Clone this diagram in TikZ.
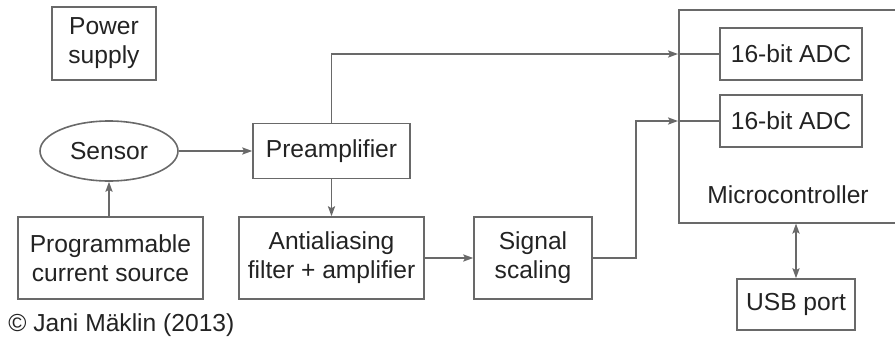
\documentclass[tikz,border=0pt]{standalone}
\usepackage{fontspec}
\setmainfont{Liberation Sans}
\usepackage{tikz}
\usetikzlibrary{arrows.meta,calc,positioning,shapes.geometric}
\definecolor{boxline}{RGB}{105,105,105}
\definecolor{boxtext}{RGB}{35,35,35}
\newcommand{\blockfont}{\fontsize{12.3}{14.5}\selectfont}

\begin{document}
\begin{tikzpicture}[x=0.5pt,y=0.5pt,
  block/.style={draw=boxline,line width=0.8pt,inner sep=0pt,align=center,
    text=boxtext,font=\blockfont},
  flow/.style={draw=boxline,line width=0.8pt,-{Stealth[length=5pt,width=3.6pt,inset=1pt]}},
  both/.style={draw=boxline,line width=0.8pt,
    {Stealth[length=5pt,width=3.6pt,inset=1pt]}-{Stealth[length=5pt,width=3.6pt,inset=1pt]}},
  wire/.style={draw=boxline,line width=0.8pt}]
  \useasboundingbox (0,0) rectangle (895,-338);
  % blocks, left to right
  \node[block,minimum width=52pt,minimum height=36.5pt] (power) at (104,-43.5) {Power\\supply};
  \node[block,ellipse,minimum width=69pt,minimum height=30pt] (sensor) at (109,-151) {Sensor};
  \node[block,minimum width=92.5pt,minimum height=41pt] (pcs) at (110.5,-258) {Programmable\\current source};
  \node[block,minimum width=78.5pt,minimum height=27.5pt] (pre) at (331.5,-151) {Preamplifier};
  \node[block,minimum width=92.5pt,minimum height=41pt] (aaf) at (331.5,-258) {Antialiasing\\filter + amplifier};
  \node[block,minimum width=59pt,minimum height=41pt] (scal) at (533,-258) {Signal\\scaling};
  \node[block,minimum width=120pt,minimum height=106.5pt,anchor=north west] (mcu) at (678,-9) {};
  \node[block,minimum width=71pt,minimum height=26pt] (adc1) at (791,-54) {16-bit ADC};
  \node[block,minimum width=71pt,minimum height=26pt] (adc2) at (791,-121) {16-bit ADC};
  \node[text=boxtext,font=\blockfont] (mcutext) at (788,-195) {Microcontroller};
  \node[block,minimum width=59pt,minimum height=25.5pt] (usb) at (796,-304.5) {USB port};
  \node[text=boxtext,font=\blockfont,anchor=west,inner sep=0pt] (copy) at (8,-325) {© Jani Mäklin (2013)};
  % connectors
  \draw[flow] (pcs.north -| sensor.south) -- (sensor.south);
  \draw[flow] (sensor.east) -- (pre.west);
  \draw[flow] (pre.south) -- (aaf.north);
  \draw[flow] (aaf.east) -- (scal.west);
  \draw[flow] (pre.north) |- (adc1 -| mcu.west);
  \draw[wire] (adc1 -| mcu.west) -- (adc1.west);
  \draw[flow] (scal.east) -- ++(43,0) |- (adc2 -| mcu.west);
  \draw[wire] (adc2 -| mcu.west) -- (adc2.west);
  \draw[both] (usb.north |- mcu.south) -- (usb.north);
\end{tikzpicture}
\end{document}
